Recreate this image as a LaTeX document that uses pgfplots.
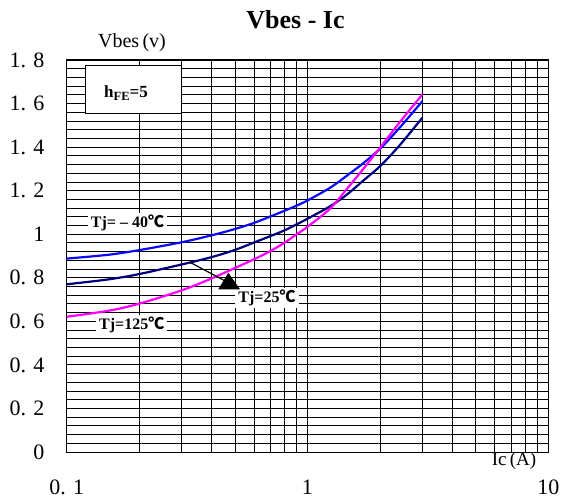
\documentclass[border=0pt]{standalone}
\usepackage{fontspec}
\setmainfont{Liberation Serif}
\newfontfamily\cjk{Noto Sans CJK SC}
\usepackage{pgfplots}
\pgfplotsset{compat=1.18}
\definecolor{cblue}{RGB}{10,10,255}
\definecolor{cnavy}{RGB}{0,0,128}
\definecolor{cmag}{RGB}{255,0,255}
\begin{document}
\begin{tikzpicture}
\begin{axis}[
  at={(0pt,0pt)}, anchor=south west,
  scale only axis, width=481.6pt, height=392pt,
  xmode=log, log basis x=10,
  xmin=0.1, xmax=10, ymin=0, ymax=1.8,
  xtick={0.1,1,10}, xticklabels={0. 1,1,10},
  minor xtick={0.2,0.3,0.4,0.5,0.6,0.7,0.8,0.9,2,3,4,5,6,7,8,9},
  ytick={0,0.2,0.4,0.6,0.8,1,1.2,1.4,1.6,1.8},
  yticklabels={0,0. 2,0. 4,0. 6,0. 8,1,1. 2,1. 4,1. 6,1. 8},
  minor y tick num=4,
  grid=both,
  major grid style={black, line width=0.9pt},
  minor grid style={black, line width=0.9pt},
  major tick length=0pt, minor tick length=0pt,
  axis line style={black, line width=1pt},
  tick label style={font=\fontsize{22}{22}\selectfont},
  xticklabel style={anchor=center, inner sep=0pt, yshift=-35pt},
  yticklabel style={anchor=east, inner sep=0pt, xshift=-22pt},
]
\addplot[cblue, line width=2.2pt, smooth] coordinates {
(0.1,0.888) (0.15,0.906) (0.2,0.927) (0.3,0.963) (0.4,0.995) (0.5,1.024)
(0.6,1.052) (0.7,1.081) (0.8,1.107) (0.9,1.131) (1.0,1.155) (1.24,1.213)
(1.45,1.267) (1.7,1.325) (2.0,1.392) (2.4,1.486) (3.0,1.611)};
\addplot[cnavy, line width=2.2pt, smooth] coordinates {
(0.1,0.770) (0.15,0.793) (0.2,0.817) (0.3,0.861) (0.4,0.895) (0.5,0.928)
(0.6,0.962) (0.7,0.991) (0.8,1.017) (0.9,1.045) (1.0,1.071) (1.24,1.128)
(1.45,1.180) (1.7,1.245) (2.0,1.312) (2.4,1.405) (3.0,1.535)};
\addplot[cmag, line width=2.2pt, smooth] coordinates {
(0.1,0.621) (0.15,0.649) (0.2,0.681) (0.3,0.742) (0.4,0.797) (0.5,0.845)
(0.6,0.885) (0.7,0.922) (0.8,0.960) (0.9,0.999) (1.0,1.034) (1.24,1.117)
(1.45,1.205) (1.7,1.298) (2.0,1.397) (2.4,1.510) (3.0,1.642)};
\end{axis}
\node[font=\bfseries\fontsize{26}{26}\selectfont] at (228.8pt,432pt) {Vbes - Ic};
\node[font=\fontsize{20}{20}\selectfont] at (65.3pt,409pt) {Vbes\,(v)};
\node[font=\fontsize{19}{19}\selectfont] at (447.3pt,-9pt) {Ic\,(A)};
\draw[fill=white, line width=1pt] (18.3pt,338.7pt) rectangle (114.8pt,386pt);
\node[font=\bfseries\fontsize{17}{17}\selectfont] at (59.3pt,358.7pt) {h\raisebox{-0.35ex}{\fontsize{12.5}{12.5}\selectfont FE}=5};
\node[fill=white, inner xsep=3pt, inner ysep=2pt, font=\bfseries\fontsize{16}{16}\selectfont] at (60.8pt,229.3pt) {Tj= – 40{\cjk ℃}};
\node[fill=white, inner xsep=3pt, inner ysep=2pt, font=\bfseries\fontsize{16}{16}\selectfont] at (65pt,127pt) {Tj=125{\cjk ℃}};
\node[fill=white, inner xsep=3pt, inner ysep=2pt, font=\bfseries\fontsize{16}{16}\selectfont] at (200.3pt,153.7pt) {Tj=25{\cjk ℃}};
\draw[line width=1.2pt] (123.3pt,189.7pt) -- (162.3pt,169pt);
\fill (161.6pt,179.3pt) -- (151.6pt,162.7pt) -- (173.3pt,162.7pt) -- cycle;
\pgfresetboundingbox
\useasboundingbox (-66.7pt,-48pt) rectangle (500.3pt,452pt);
\end{tikzpicture}
\end{document}
